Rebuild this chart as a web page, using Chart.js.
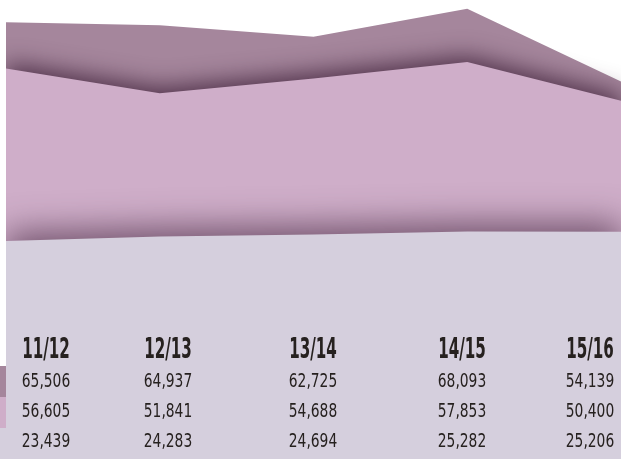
<!DOCTYPE html>
<html>
<head>
<meta charset="utf-8">
<script src="https://cdn.jsdelivr.net/npm/chart.js@4/dist/chart.umd.min.js"></script>
<style>
  html, body { margin: 0; padding: 0; background: #fff; }
  #wrap { width: 621px; height: 459px; position: relative; }
</style>
</head>
<body>
<div id="wrap"><canvas id="chart_area"></canvas></div>
<script>
// seasons and the three series (back to front)
const seasons = ['11/12', '12/13', '13/14', '14/15', '15/16'];
const seriesTop = [65506, 64937, 62725, 68093, 54139];
const seriesMid = [56605, 51841, 54688, 57853, 50400];
const seriesLow = [23439, 24283, 24694, 25282, 25206];

const colTop = '#a5869c';
const colMid = '#cfaec9';
const colLow = '#d5cfdd';

// cast a soft shadow upward from each front layer onto the one behind
const layerShadow = {
    id: 'layerShadow',
    afterDatasetDraw(chart, args) {
        const ctx = chart.ctx;
        if (args.index === 2 || args.index === 1) {
            ctx.shadowColor = args.index === 2 ? 'rgba(55,25,50,0.8)' : 'rgba(80,50,75,0.75)';
            ctx.shadowBlur = args.index === 2 ? 24 : 34;
            ctx.shadowOffsetX = 0;
            ctx.shadowOffsetY = args.index === 2 ? -5 : -8;
        }
    },
    beforeDatasetDraw(chart, args) {
        // filler already painted this layer, drop the shadow for the rest
        const ctx = chart.ctx;
        ctx.shadowColor = 'rgba(0,0,0,0)';
        ctx.shadowBlur = 0;
        ctx.shadowOffsetY = 0;
    }
};

// table of values under the areas
const tableRows = {
    id: 'tableRows',
    afterDraw(chart) {
        const ctx = chart.ctx;
        const colX = [46, 168, 313, 462, 590];
        const rows = [seriesTop, seriesMid, seriesLow];
        const swatch = [colTop, colMid, colLow];
        const rowY = [382, 412, 442];
        const fmt = v => v.toLocaleString('en-US');

        ctx.save();
        ctx.shadowColor = 'rgba(0,0,0,0)';
        // little colour chips on the left edge
        const bands = [366, 397, 428, 459];
        swatch.forEach((c, i) => {
            ctx.fillStyle = c;
            ctx.fillRect(0, bands[i], 6, bands[i + 1] - bands[i]);
        });

        ctx.fillStyle = '#26211f';
        ctx.textAlign = 'center';
        ctx.textBaseline = 'middle';
        seasons.forEach((s, i) => {
            ctx.save();
            ctx.translate(colX[i], 350);
            ctx.scale(0.58, 1);
            ctx.font = 'bold 29px "Liberation Sans Narrow", "DejaVu Sans Condensed", sans-serif';
            ctx.fillText(s, 0, 0);
            ctx.restore();
            rows.forEach((r, j) => {
                ctx.save();
                ctx.translate(colX[i], rowY[j]);
                ctx.scale(0.77, 1);
                ctx.font = '20px "Liberation Sans Narrow", "DejaVu Sans Condensed", sans-serif';
                ctx.fillText(fmt(r[i]), 0, 0);
                ctx.restore();
            });
        });
        ctx.restore();
    }
};

new Chart(document.querySelector('#chart_area'), {
    type: 'line',
    data: {
        labels: seasons,
        datasets: [
            { label: 'low', data: seriesLow, backgroundColor: colLow, fill: 'start' },
            { label: 'mid', data: seriesMid, backgroundColor: colMid, fill: 'start' },
            { label: 'top', data: seriesTop, backgroundColor: colTop, fill: 'start' }
        ]
    },
    options: {
        responsive: true,
        maintainAspectRatio: false,
        animation: false,
        layout: { padding: { left: 6 } },
        elements: {
            line: { tension: 0, borderWidth: 0 },
            point: { radius: 0 }
        },
        scales: {
            x: { display: false, offset: false },
            y: { display: false, min: -18500, max: 69800 }
        },
        plugins: {
            legend: { display: false },
            tooltip: { enabled: false }
        }
    },
    plugins: [layerShadow, tableRows]
});
</script>
</body>
</html>
